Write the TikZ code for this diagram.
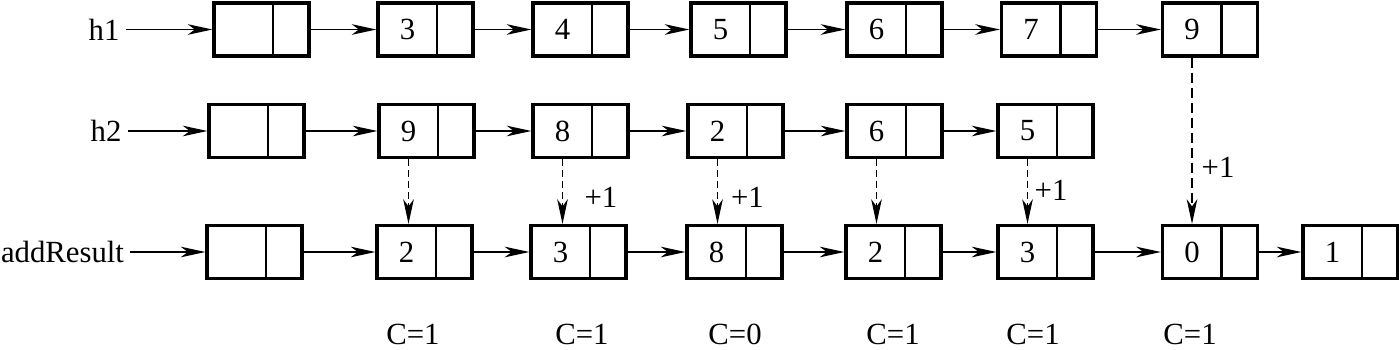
\documentclass[tikz,border=0pt]{standalone}
\usepackage{fontspec}
\setmainfont{Liberation Serif}
\usetikzlibrary{arrows.meta}
\newcommand{\val}[1]{\makebox[1.18cm]{#1}\hspace*{0.72cm}}% dato | puntero

\begin{document}
\begin{tikzpicture}[
    font=\fontsize{17.5}{21}\selectfont,
    cell/.style={draw, line width=1.8pt, inner sep=0pt, minimum width=1.9cm, minimum height=1.06cm,
        path picture={\draw[line width=1.2pt]
            ([xshift=1.18cm]path picture bounding box.south west) --
            ([xshift=1.18cm]path picture bounding box.north west);}},
    link/.style={-{Stealth[length=14pt, width=6pt, inset=4pt]}, line width=1.1pt},
    carry/.style={link, dash pattern=on 0.13cm off 0.09cm},
    tag/.style={inner sep=0.12cm},
]
\useasboundingbox (0,0) rectangle (27.98,-6.98);

% ===== lista h1 =====
\node[tag] (h1) at (2.08,-0.59) {h1};
\node[cell] (a0) at (5.23,-0.59) {\val{}};
\foreach \n/\x/\v in {1/8.51/3, 2/11.61/4, 3/14.77/5, 4/17.89/6, 5/20.98/7, 6/24.2/9}
    \node[cell] (a\n) at (\x,-0.59) {\val{\v}};
\draw[link] (h1) -- (a0);
\foreach \i/\j in {0/1, 1/2, 2/3, 3/4, 4/5, 5/6}
    \draw[link] (a\i) -- (a\j);

% ===== lista h2 =====
\node[tag] (h2) at (2.12,-2.62) {h2};
\node[cell] (b0) at (5.13,-2.62) {\val{}};
\foreach \n/\x/\v in {1/8.53/9, 2/11.61/8, 3/14.71/2, 4/17.89/6, 5/20.91/5}
    \node[cell] (b\n) at (\x,-2.62) {\val{\v}};
\draw[link] (h2) -- (b0);
\foreach \i/\j in {0/1, 1/2, 2/3, 3/4, 4/5}
    \draw[link] (b\i) -- (b\j);

% ===== lista addResult =====
\node[tag] (hs) at (1.25,-5.04) {addResult};
\node[cell] (s0) at (5.09,-5.04) {\val{}};
\foreach \n/\x/\v in {1/8.49/2, 2/11.57/3, 3/14.69/8, 4/17.87/2, 5/20.91/3, 6/24.2/0, 7/27.01/1}
    \node[cell] (s\n) at (\x,-5.04) {\val{\v}};
\draw[link] (hs) -- (s0);
\foreach \i/\j in {0/1, 1/2, 2/3, 3/4, 4/5, 5/6, 6/7}
    \draw[link] (s\i) -- (s\j);

% ===== sumas (flechas punteadas) =====
\foreach \n in {1,...,5}
    \draw[carry] ([xshift=-0.36cm]b\n.south) -- ([xshift=-0.36cm]b\n.south |- s\n.north);
\draw[carry, dash pattern=on 0.2cm off 0.1cm] ([xshift=-0.36cm]a6.south) -- ([xshift=-0.36cm]a6.south |- s6.north);

% acarreo
\node (p2) at (12.02,-3.94) {+1};
\node (p3) at (14.95,-3.94) {+1};
\node (p5) at (21.02,-3.80) {+1};
\node (p6) at (24.36,-3.34) {+1};

% ===== valor de C =====
\foreach \n/\x/\c in {1/8.26/1, 2/11.64/1, 3/14.70/0, 4/17.86/1, 5/20.66/1, 6/23.80/1}
    \node[inner sep=1pt] (c\n) at (\x,-6.68) {C=\c};

\end{tikzpicture}
\end{document}
